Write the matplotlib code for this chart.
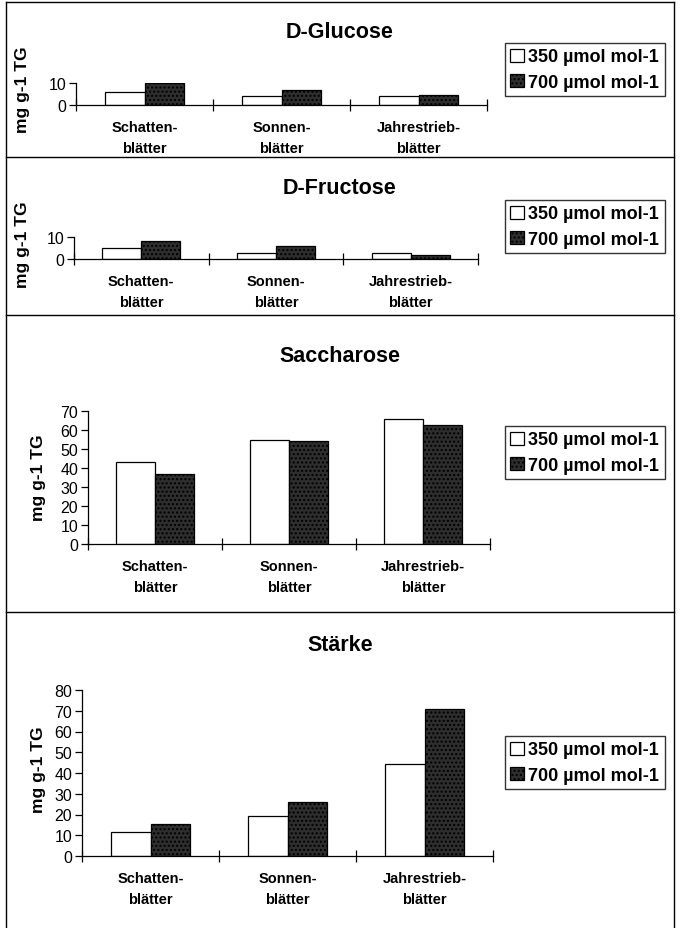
import matplotlib
matplotlib.use("Agg")
import matplotlib.pyplot as plt
from matplotlib.lines import Line2D
from matplotlib.patches import Patch
import numpy as np

plt.rcParams['font.family'] = ['Liberation Sans', 'DejaVu Sans']
plt.rcParams['hatch.color'] = '#555555'

categories = ["Schatten-\nblätter", "Sonnen-\nblätter", "Jahrestrieb-\nblätter"]
series_names = ["350 µmol mol-1", "700 µmol mol-1"]

glucose_350 = [5.8, 4.0, 4.0]
glucose_700 = [10.0, 7.0, 4.4]
fructose_350 = [4.9, 2.9, 2.6]
fructose_700 = [8.3, 5.8, 1.7]
saccharose_350 = [43.1, 54.5, 65.8]
saccharose_700 = [36.9, 54.2, 62.4]
staerke_350 = [11.4, 19.1, 44.2]
staerke_700 = [15.4, 26.0, 71.0]

titles = ["D-Glucose", "D-Fructose", "Saccharose", "Stärke"]
ylabel = "mg g-1 TG"

W, H = 680, 929
fig = plt.figure(figsize=(W / 100, H / 100), dpi=100)
fig.patch.set_facecolor("white")

def fx(x):
    return x / W

def fy(y):
    return 1 - y / H

def add_axes_px(left, top, right, bottom):
    return fig.add_axes([fx(left), fy(bottom), fx(right) - fx(left), fy(top) - fy(bottom)])

# panel spec: data, ymax, yticks, axes px (left, top, right, bottom), title y, legend box (left, top), ylabel x, ylabel y
panels = [
    (glucose_350, glucose_700, 10, [0, 10], (76, 84, 487, 106), 33, (505, 44), 22, 90),
    (fructose_350, fructose_700, 10, [0, 10], (74, 238, 478, 260), 189, (505, 201), 22, 245),
    (saccharose_350, saccharose_700, 70, list(range(0, 71, 10)), (88, 412, 490, 545), 356, (505, 427), 38, 478),
    (staerke_350, staerke_700, 80, list(range(0, 81, 10)), (82, 691, 493, 857), 646, (505, 737), 38, 770),
]

x = np.arange(len(categories))
bw = 0.29
dark = "#2e2e2e"

for (v1, v2, ymax, yt, box, ty, lg, ylx, yly), title in zip(panels, titles):
    ax = add_axes_px(*box)
    ax.bar(x - bw / 2, v1, width=bw, color="white", edgecolor="black", linewidth=0.9)
    ax.bar(x + bw / 2, v2, width=bw, color=dark, edgecolor="black", linewidth=0.9,
           hatch="....")
    ax.set_xlim(-0.5, 2.5)
    ax.set_ylim(0, ymax)
    ax.set_yticks(yt)
    ax.set_yticklabels([str(t) for t in yt], fontsize=11.5)
    ax.set_xticks([-0.5, 0.5, 1.5, 2.5])
    ax.set_xticklabels([])
    ax.tick_params(axis="x", direction="inout", length=8, width=0.9)
    ax.tick_params(axis="y", direction="out", length=5, width=0.9, pad=2)
    for s in ["top", "right"]:
        ax.spines[s].set_visible(False)
    for s in ["left", "bottom"]:
        ax.spines[s].set_linewidth(0.9)
    ax.patch.set_alpha(0)
    hpx = box[3] - box[1]
    for i, c in enumerate(categories):
        ax.text(i, -15 / hpx, c, transform=ax.get_xaxis_transform(), ha="center", va="top",
                fontsize=10.5, fontweight="bold", linespacing=1.65)
    fig.text(fx(340), fy(ty), title, ha="center", va="center", fontsize=15.5, fontweight="bold")
    fig.text(fx(ylx), fy(yly), ylabel, ha="center", va="center", rotation=90,
             fontsize=12.5, fontweight="bold")
    handles = [Patch(facecolor="white", edgecolor="black", linewidth=0.9),
               Patch(facecolor=dark, edgecolor="black", linewidth=0.9, hatch="....")]
    fig.legend(handles, series_names, loc="upper left", bbox_to_anchor=(fx(lg[0]), fy(lg[1])),
               frameon=True, fancybox=False, shadow=False, edgecolor="black",
               prop={"weight": "bold", "size": 13}, handlelength=0.75, handleheight=0.75,
               handletextpad=0.25, borderpad=0.3, labelspacing=0.45, borderaxespad=0)

lw = 1.0
for yy in [3, 158, 316, 613]:
    fig.add_artist(Line2D([fx(6), fx(674)], [fy(yy), fy(yy)], color="black", linewidth=lw))
fig.add_artist(Line2D([fx(6), fx(6)], [fy(3), fy(929)], color="black", linewidth=lw))
fig.add_artist(Line2D([fx(674), fx(674)], [fy(3), fy(929)], color="black", linewidth=lw))

fig.savefig("out.png", dpi=100, facecolor="white")
